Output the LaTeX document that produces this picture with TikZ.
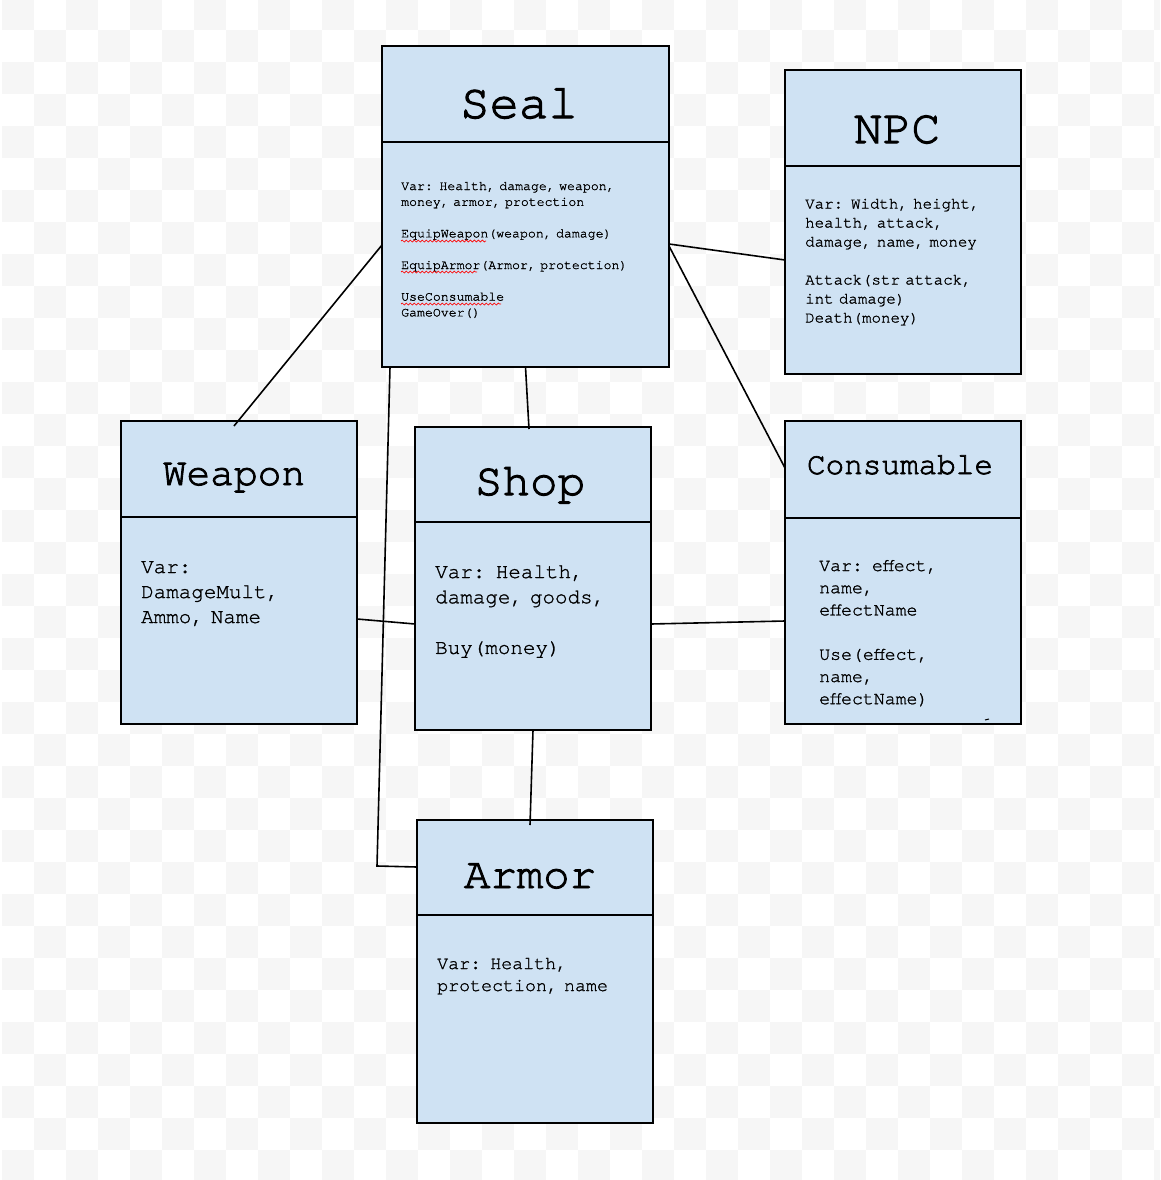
\documentclass[tikz,border=0pt]{standalone}
\usepackage{fontspec}
\setmonofont{TeX Gyre Cursor}[FakeBold=1.2]
\newfontfamily\headfont{TeX Gyre Cursor}[FakeBold=2.2]
\usetikzlibrary{positioning,decorations.pathmorphing}
\definecolor{boxblue}{HTML}{CFE2F3}
\definecolor{tilegray}{HTML}{F6F6F6}
\protected\def\monowords{\spaceskip 0.6em\relax\xspaceskip 0.6em\relax}

\begin{document}
\begin{tikzpicture}[x=1pt,y=-1pt,
    classbox/.style={draw, line width=1.6pt, fill=boxblue, rectangle, inner sep=0pt, outer sep=0pt, anchor=north west},
    title/.style={font=\headfont\fontsize{#1}{#1}\selectfont, inner sep=0pt, anchor=base},
    body/.style 2 args={font=\ttfamily\fontsize{#1}{#2}\selectfont\monowords, inner sep=0pt, anchor=base west, text width=270pt, align=left},
    link/.style={line width=1.6pt},
    squiggle/.style={red, line width=0.7pt, decorate, decoration={snake, amplitude=1pt, segment length=4pt}}]
  % background
  \useasboundingbox (0,0) rectangle (1160,1180);
  \fill[white] (0,0) rectangle (1160,1180);
  \begin{scope}
    \clip (0,0) rectangle (1160,1180);
    \foreach \j in {0,...,37}{
      \foreach \i in {0,...,18}{
        \fill[tilegray] ({2+64*\i+32*mod(\j,2)},{-2+32*\j}) rectangle ++(32,32);
      }
    }
  \end{scope}

  % class boxes
  \node[classbox, minimum width=287pt, minimum height=321pt] (seal)       at (382,46)  {};
  \node[classbox, minimum width=236pt, minimum height=304pt] (npc)        at (785,70)  {};
  \node[classbox, minimum width=236pt, minimum height=303pt] (weapon)     at (121,421) {};
  \node[classbox, minimum width=236pt, minimum height=303pt] (shop)       at (415,427) {};
  \node[classbox, minimum width=236pt, minimum height=303pt] (consumable) at (785,421) {};
  \node[classbox, minimum width=236pt, minimum height=303pt] (armor)      at (417,820) {};

  % dividers
  \draw[link] (seal.west |- 0,142)       -- (seal.east |- 0,142);
  \draw[link] (npc.west |- 0,166)        -- (npc.east |- 0,166);
  \draw[link] (weapon.west |- 0,517)     -- (weapon.east |- 0,517);
  \draw[link] (shop.west |- 0,522)       -- (shop.east |- 0,522);
  \draw[link] (consumable.west |- 0,518) -- (consumable.east |- 0,518);
  \draw[link] (armor.west |- 0,915)      -- (armor.east |- 0,915);

  % titles
  \node[title=49] (sealT)       at (519,118) {Seal};
  \node[title=48] (npcT)        at (897,143) {NPC};
  \node[title=39.5] (weaponT)   at (234,485) {Weapon};
  \node[title=46] (shopT)       at (530,495) {Shop};
  \node[title=31] (consumableT) at (900,474) {Consumable};
  \node[title=44] (armorT)      at (530,888) {Armor};

  % members
  \node[body={13.2}{15.8}] (sealB) at (401,190) {Var: Health, damage, weapon,\\
    money, armor, protection\\[15.8pt]
    EquipWeapon(weapon, damage)\\[15.8pt]
    EquipArmor(Armor, protection)\\[15.8pt]
    UseConsumable\\
    GameOver()};
  \node[body={15.8}{19}] (npcB) at (805,208.5) {Var: Width, height,\\
    health, attack,\\
    damage, name, money\\[19pt]
    Attack(str attack,\\
    int damage)\\
    Death(money)};
  \node[body={20.9}{25}] (weaponB) at (141,573) {Var:\\
    DamageMult,\\
    Ammo, Name};
  \node[body={20.9}{25.3}] (shopB) at (435,578) {Var: Health,\\
    damage, goods,\\[25.3pt]
    Buy(money)};
  \node[body={18.2}{22.2}] (consumableB) at (819,571) {Var: effect,\\
    name,\\
    effectName\\[22.2pt]
    Use(effect,\\
    name,\\
    effectName)};
  \node[body={18.3}{22}] (armorB) at (437,969) {Var: Health,\\
    protection, name};

  % spell check marks
  \draw[squiggle] (401,241) -- (486,241);
  \draw[squiggle] (401,272) -- (477,272);
  \draw[squiggle] (401,304) -- (501,304);
  \draw[line width=1pt] ([xshift=-36pt,yshift=4pt]consumable.south east) -- ++(4,-1);

  % connectors
  \draw[link] ([yshift=-38.5pt]seal.west) -- ([xshift=-5pt,yshift=-5pt]weapon.north);
  \draw[link] (seal.south) -- ([xshift=-4pt,yshift=-2pt]shop.north);
  \draw[link] ([yshift=-37.5pt]seal.east) -- ([yshift=-38pt]npc.west);
  \draw[link] ([yshift=-39.5pt]seal.east) -- ([yshift=-47pt]consumable.north west);
  \draw[link] ([xshift=8pt]seal.south west) -- ++(-13,499) -- ([yshift=-47pt]armor.north west);
  \draw[link] ([yshift=-46.5pt]weapon.east) -- ([yshift=-45.5pt]shop.west);
  \draw[link] ([yshift=-45.5pt]shop.east) -- ([yshift=-48.5pt]consumable.west);
  \draw[link] (shop.south) -- ([xshift=-5pt,yshift=-5pt]armor.north);
\end{tikzpicture}
\end{document}
